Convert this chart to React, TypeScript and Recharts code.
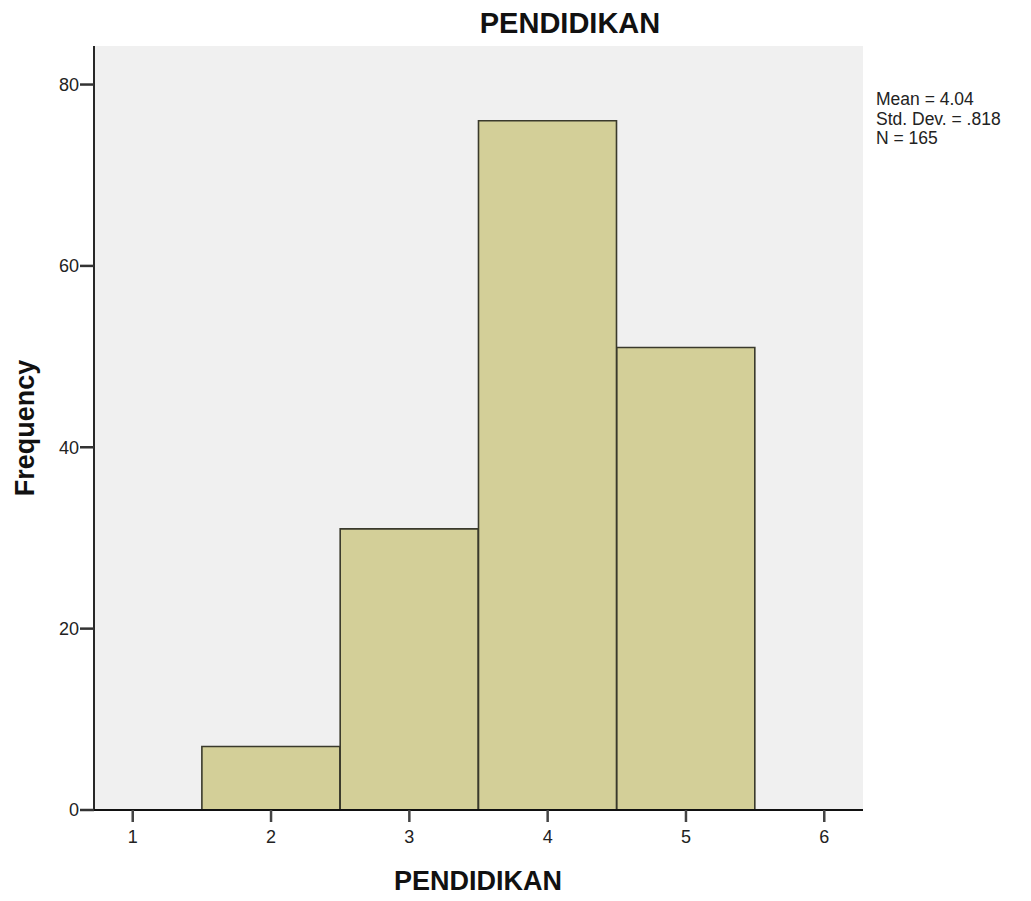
import React from 'react';
import { BarChart, Bar, XAxis, YAxis, CartesianGrid } from 'recharts';

const categories = [2, 3, 4, 5];
const frequencies = [7, 31, 76, 51];
const xTicks = [1, 2, 3, 4, 5, 6];
const yTicks = [0, 20, 40, 60, 80];
const statLines = ['Mean = 4.04', 'Std. Dev. = .818', 'N = 165'];
const title = 'PENDIDIKAN';
const xLabel = 'PENDIDIKAN';
const yLabel = 'Frequency';

const data = categories.map((c, i) => ({ x: c, freq: frequencies[i] }));

const FONT = '"Liberation Sans", Arial, Helvetica, sans-serif';

export default function App() {
  return (
    <div style={{ position: 'absolute', left: 0, top: 0, width: 1031, height: 901, background: '#fff' }}>
      <BarChart
        width={1031}
        height={901}
        data={data}
        margin={{ top: 46, right: 168, bottom: 31, left: 0 }}
        barCategoryGap={0}
        barGap={0}
        style={{ fontFamily: FONT }}
      >
        <CartesianGrid fill="#f0f0f0" horizontal={false} vertical={false} stroke="none" />
        <XAxis
          xAxisId="top"
          orientation="top"
          type="number"
          dataKey="x"
          domain={[0.72, 6.28]}
          height={0}
          tick={false}
          tickLine={false}
          axisLine={{ stroke: '#6a6a6a', strokeWidth: 1.6 }}
        />
        <YAxis
          yAxisId="right"
          orientation="right"
          type="number"
          domain={[0, 84.25]}
          width={0}
          tick={false}
          tickLine={false}
          axisLine={{ stroke: '#6a6a6a', strokeWidth: 1.6 }}
        />
        <XAxis
          type="number"
          dataKey="x"
          domain={[0.72, 6.28]}
          ticks={xTicks}
          allowDataOverflow
          height={60}
          tickSize={12}
          tickMargin={8}
          tick={{ fontSize: 18, fill: '#222', fontFamily: FONT }}
          tickLine={{ stroke: '#444', strokeWidth: 2.5 }}
          axisLine={{ stroke: '#111', strokeWidth: 1.8 }}
        />
        <YAxis
          type="number"
          domain={[0, 84.25]}
          ticks={yTicks}
          allowDataOverflow
          width={94}
          tickSize={14}
          tickMargin={1}
          tick={{ fontSize: 18, fill: '#222', fontFamily: FONT }}
          tickLine={{ stroke: '#333', strokeWidth: 2.5 }}
          axisLine={{ stroke: '#111', strokeWidth: 1.8 }}
        />
        <Bar
          dataKey="freq"
          fill="#d3cf98"
          stroke="#3a3a2c"
          strokeWidth={1.6}
          isAnimationActive={false}
        />
      </BarChart>
      <svg
        width={1031}
        height={901}
        style={{ position: 'absolute', left: 0, top: 0, pointerEvents: 'none', fontFamily: FONT }}
      >
        <text x={570} y={33} textAnchor="middle" fontSize={29} fontWeight="bold" fill="#111">
          {title}
        </text>
        <text x={478} y={890} textAnchor="middle" fontSize={27} fontWeight="bold" fill="#111">
          {xLabel}
        </text>
        <text
          x={0}
          y={0}
          transform="translate(34 428) rotate(-90)"
          textAnchor="middle"
          fontSize={27}
          fontWeight="bold"
          fill="#111"
        >
          {yLabel}
        </text>
        {statLines.map((s, i) => (
          <text key={s} x={876} y={105 + i * 19.5} fontSize={17.5} fill="#222">
            {s}
          </text>
        ))}
      </svg>
    </div>
  );
}
